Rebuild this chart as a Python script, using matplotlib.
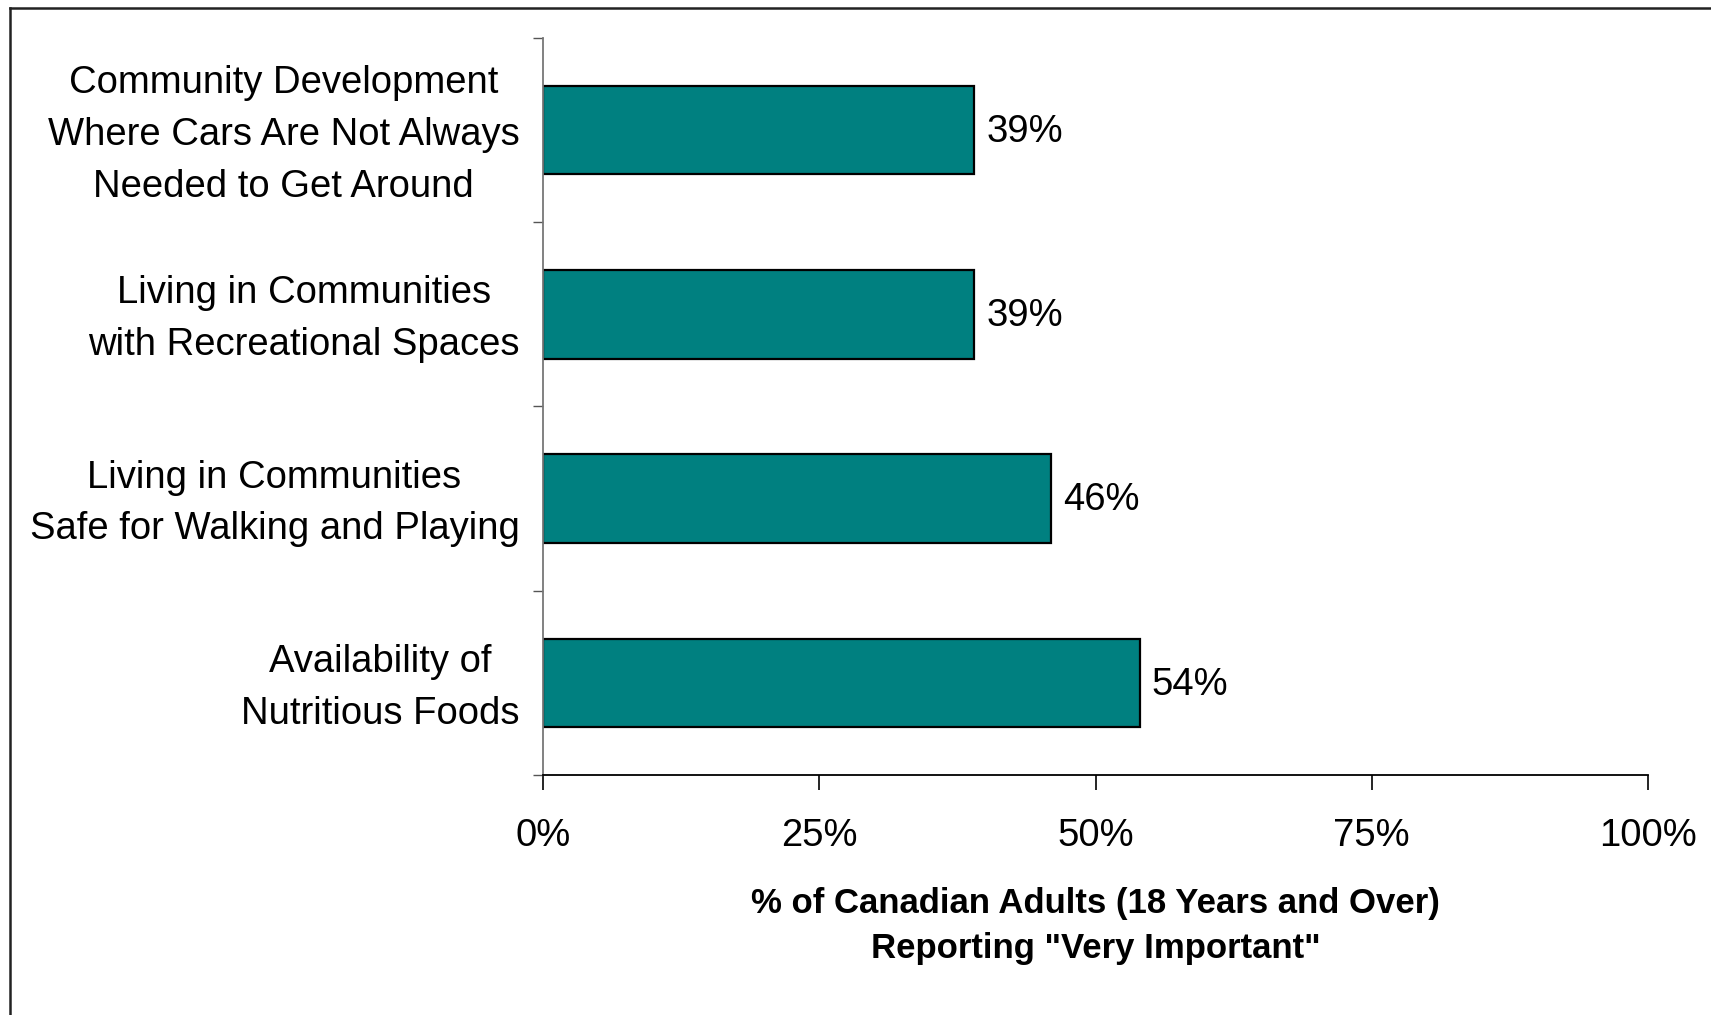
import matplotlib.pyplot as plt
from matplotlib.lines import Line2D
from matplotlib.ticker import FixedLocator, PercentFormatter
from matplotlib.transforms import ScaledTranslation

categories = [
    "Community Development\nWhere Cars Are Not Always\nNeeded to Get Around",
    "Living in Communities\nwith Recreational Spaces",
    "Living in Communities\nSafe for Walking and Playing",
    "Availability of\nNutritious Foods",
]
values = [39, 39, 46, 54]
x_ticks = [0, 25, 50, 75, 100]

plt.rcParams['font.family'] = ['Liberation Sans', 'DejaVu Sans']

fig = plt.figure(figsize=(17.11, 10.15), dpi=100)
ax = fig.add_axes([0.3174, 0.2365, 0.6458, 0.7261])

pos = list(range(len(categories)))
ax.barh(pos, values, height=0.48, color='#008080', edgecolor='black', linewidth=1.6)

for y, v in zip(pos, values):
    ax.text(v + 1.1, y + 0.01, f"{v}%", va='center', ha='left', fontsize=27.5)

ax.set_xlim(0, 100)
ax.set_ylim(len(categories) - 0.5, -0.5)

ax.set_xticks(x_ticks)
ax.xaxis.set_major_formatter(PercentFormatter(decimals=0))
ax.tick_params(axis='x', direction='out', length=11, width=1.2, pad=20, labelsize=27.5)

# category labels sit between boundary ticks
ax.set_yticks(pos)
ax.set_yticklabels(categories, fontsize=27.5, multialignment='center', linespacing=1.56)
ax.tick_params(axis='y', which='major', length=0, pad=17)
lift = ScaledTranslation(0, 7 / 100, fig.dpi_scale_trans)
for lab in ax.get_yticklabels():
    lab.set_transform(lab.get_transform() + lift)
ax.yaxis.set_minor_locator(FixedLocator([p - 0.5 for p in pos] + [len(pos) - 0.5]))
ax.tick_params(axis='y', which='minor', direction='out', length=7, width=1.0, color='#555555')

for side in ('top', 'right'):
    ax.spines[side].set_visible(False)
ax.spines['left'].set_color('#777777')
ax.spines['left'].set_linewidth(1.3)
ax.spines['bottom'].set_linewidth(1.3)

ax.set_xlabel('% of Canadian Adults (18 Years and Over)\nReporting "Very Important"',
              fontsize=25, fontweight='bold', labelpad=24, linespacing=1.45)

# outer frame (top and left edges)
fig.add_artist(Line2D([10 / 1711, 10 / 1711], [0, 1 - 8 / 1015], transform=fig.transFigure,
                      color='#222222', linewidth=1.8))
fig.add_artist(Line2D([10 / 1711, 1], [1 - 8 / 1015, 1 - 8 / 1015], transform=fig.transFigure,
                      color='#222222', linewidth=1.8))

fig.savefig('out.png', dpi=100)
